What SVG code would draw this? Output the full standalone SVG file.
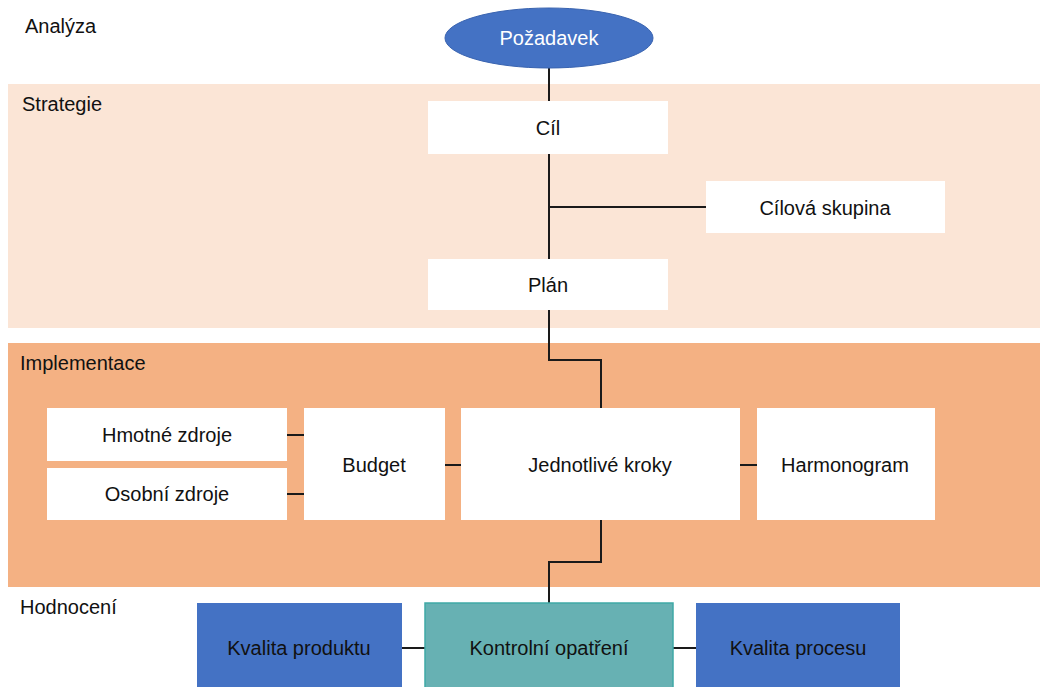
<svg xmlns="http://www.w3.org/2000/svg" width="1040" height="687" viewBox="0 0 1040 687">
<style>
text{font-family:"Liberation Sans",Arial,sans-serif;font-size:20px;fill:#111;}
.c{text-anchor:middle;dominant-baseline:central;}
.w{fill:#fff;}
.box{fill:#fff;}
.blue{fill:#4472C4;}
.ln{stroke:#1a1a1a;stroke-width:2;fill:none;}
</style>
<rect width="1040" height="687" fill="#fff"/>
<g id="bands">
<rect x="8" y="84" width="1032" height="244" fill="#FBE5D6"/>
<rect x="8" y="343" width="1032" height="244" fill="#F4B183"/>
<text x="25" y="33">Analýza</text>
<text x="22" y="111">Strategie</text>
<text x="20" y="370">Implementace</text>
<text x="20" y="614">Hodnocení</text>
</g>
<g id="connectors">
<path class="ln" d="M549 68V259"/>
<path class="ln" d="M549 207H706"/>
<path class="ln" d="M549 310V360H601V408"/>
<path class="ln" d="M287 435H304M287 494H304"/>
<path class="ln" d="M445 465H461M740 465H757"/>
<path class="ln" d="M601 520V562H549V603"/>
<path class="ln" d="M402 648H425M673 648H696"/>
</g>
<g id="pozadavek"><ellipse cx="549" cy="38" rx="104" ry="30" class="blue" stroke="#3a64b0"/><text class="c w" x="549" y="38">Požadavek</text></g>
<g id="cil"><rect class="box" x="428" y="101" width="240" height="53"/><text class="c" x="548" y="128">Cíl</text></g>
<g id="cilova"><rect class="box" x="706" y="181" width="239" height="52"/><text class="c" x="825" y="208">Cílová skupina</text></g>
<g id="plan"><rect class="box" x="428" y="259" width="240" height="51"/><text class="c" x="548" y="285">Plán</text></g>
<g id="hmotne"><rect class="box" x="47" y="408" width="240" height="53"/><text class="c" x="167" y="435">Hmotné zdroje</text></g>
<g id="osobni"><rect class="box" x="47" y="468" width="240" height="52"/><text class="c" x="167" y="494">Osobní zdroje</text></g>
<g id="budget"><rect class="box" x="304" y="408" width="141" height="112"/><text class="c" x="374" y="465">Budget</text></g>
<g id="kroky"><rect class="box" x="461" y="408" width="279" height="112"/><text class="c" x="600" y="465">Jednotlivé kroky</text></g>
<g id="harmonogram"><rect class="box" x="757" y="408" width="178" height="112"/><text class="c" x="845" y="465">Harmonogram</text></g>
<g id="produkt"><rect class="blue" x="197" y="603" width="205" height="90"/><text class="c" x="299" y="648">Kvalita produktu</text></g>
<g id="kontrolni"><rect x="425" y="603" width="248" height="90" fill="#67B1B3" stroke="#3fa9a6" stroke-width="1.5"/><text class="c" x="549" y="648">Kontrolní opatření</text></g>
<g id="proces"><rect class="blue" x="696" y="603" width="204" height="90"/><text class="c" x="798" y="648">Kvalita procesu</text></g>
</svg>
